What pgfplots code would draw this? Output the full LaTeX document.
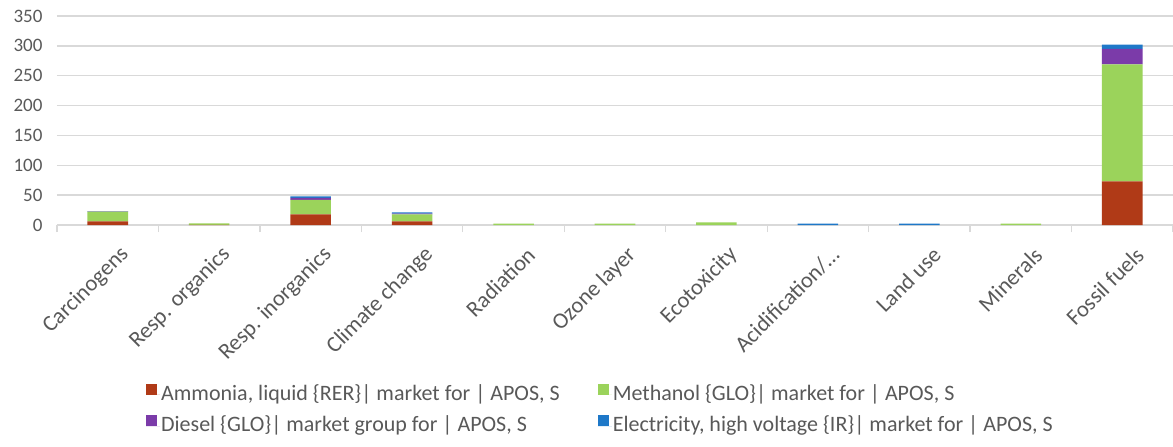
\documentclass[border=0pt]{standalone}
\usepackage{pgfplots}
\pgfplotsset{compat=1.18}
\usepackage{fontspec}
\setmainfont{Carlito}
\definecolor{amm}{HTML}{B03A17}
\definecolor{meth}{HTML}{9BD35B}
\definecolor{dies}{HTML}{7B3BA9}
\definecolor{elec}{HTML}{1E78C8}
\definecolor{gridgray}{HTML}{D9D9D9}
\definecolor{txtgray}{HTML}{595959}
\begin{document}
\begin{tikzpicture}
\path[use as bounding box] (-57bp,-222bp) rectangle (1116bp,225bp);
\begin{axis}[
  at={(0,0)}, anchor=south west,
  scale only axis, width=1116bp, height=209bp,
  ybar stacked, bar width=0.4,
  xmin=-0.5, xmax=10.5, ymin=0, ymax=350,
  ytick={0,50,...,350},
  xtick={0,...,10},
  xticklabels={Carcinogens,Resp. organics,Resp. inorganics,Climate change,Radiation,Ozone layer,Ecotoxicity,Acidification/\ldots,Land use,Minerals,Fossil fuels},
  minor xtick={-0.5,0.5,...,10.5},
  tick pos=left, xtick align=outside,
  major x tick style={draw=none},
  minor x tick style={draw=gridgray, line width=1.3bp},
  minor tick length=7bp,
  ytick style={draw=none},
  axis line style={draw=none},
  ymajorgrids, major grid style={draw=gridgray, line width=1.5bp},
  /pgf/number format/assume math mode=true,
  yticklabel style={font=\fontsize{19bp}{22bp}\selectfont, text=txtgray, xshift=-11bp},
  xticklabel style={font=\fontsize{22.5bp}{26bp}\selectfont, text=txtgray, rotate=45, anchor=east, inner sep=1bp, yshift=-28bp, xshift=-2bp},
  legend columns=2,
  legend style={at={(0.0797,-0.756)}, anchor=north west, draw=none, inner sep=0pt,
    font=\fontsize{22bp}{26bp}\selectfont, text=txtgray,
    nodes={inner sep=1bp, text height=16bp, text depth=5bp},
    row sep=8.5bp,
    /tikz/every even column/.append style={column sep=37bp}},
  legend cell align=left,
  legend image code/.code={\fill[#1,draw=none] (0bp,0bp) rectangle (11bp,11bp); \path (0bp,0bp) -- (14bp,0bp);},
]
\addplot[fill=amm, draw=none] coordinates {(0,6) (1,0.3) (2,18) (3,6) (4,0) (5,0) (6,0) (7,0) (8,0) (9,0) (10,73)};
\addplot[fill=meth, draw=none] coordinates {(0,16.5) (1,2.5) (2,24) (3,12) (4,2.5) (5,2.5) (6,4.5) (7,0) (8,0) (9,2.5) (10,196)};
\addplot[fill=dies, draw=none] coordinates {(0,0.3) (1,0) (2,3.5) (3,1) (4,0) (5,0) (6,0) (7,0) (8,0) (9,0) (10,26)};
\addplot[fill=elec, draw=none] coordinates {(0,0.5) (1,0) (2,2.5) (3,2) (4,0) (5,0) (6,0) (7,2.5) (8,2.5) (9,0) (10,7)};
\legend{{Ammonia, liquid \{RER\}| market for | APOS, S},{Methanol \{GLO\}| market for | APOS, S},{Diesel \{GLO\}| market group for | APOS, S},{Electricity, high voltage \{IR\}| market for | APOS, S}}
\end{axis}
\end{tikzpicture}
\end{document}
